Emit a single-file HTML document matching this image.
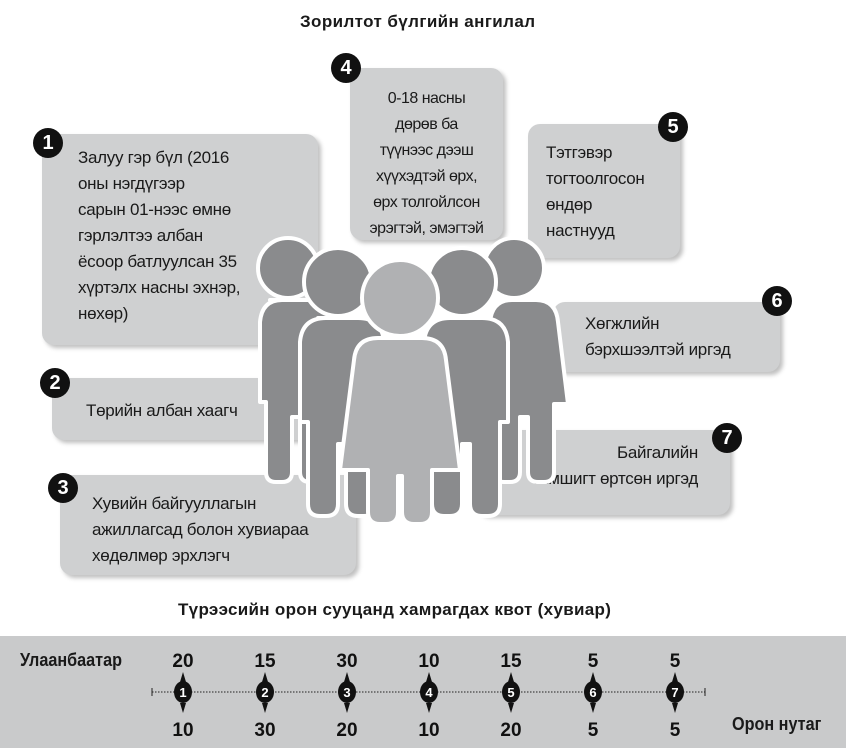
<!DOCTYPE html>
<html><head><meta charset="utf-8"><style>
body{margin:0;width:846px;height:748px;background:#fff;position:relative;overflow:hidden;font-family:"Liberation Sans","DejaVu Sans",sans-serif;color:#1a1a1a}
.b{position:absolute;background:#cfd0d1;border-radius:12px;box-shadow:3px 3px 4px rgba(0,0,0,.25);font-size:17px;line-height:26px;box-sizing:border-box;letter-spacing:-0.3px}
.n{position:absolute;width:30px;height:30px;border-radius:50%;background:#111;color:#fff;font-weight:bold;font-size:20px;line-height:30px;text-align:center}
.t{position:absolute;font-weight:bold;font-size:17px}
.band{position:absolute;left:0;top:636px;width:846px;height:112px;background:#c9cacb}
</style></head><body>
<div class="t" style="left:300px;top:12px;letter-spacing:0.4px">Зорилтот бүлгийн ангилал</div>

<div class="b" style="left:42px;top:134px;width:276px;height:211px;padding:11px 0 0 36px">Залуу гэр бүл (2016<br>оны нэгдүгээр<br>сарын 01-нээс өмнө<br>гэрлэлтээ албан<br>ёсоор батлуулсан 35<br>хүртэлх насны эхнэр,<br>нөхөр)</div>
<div class="n" style="left:33px;top:128px">1</div>

<div class="b" style="left:52px;top:378px;width:258px;height:62px;padding:20px 0 0 34px">Төрийн албан хаагч</div>
<div class="n" style="left:40px;top:368px">2</div>

<div class="b" style="left:60px;top:475px;width:296px;height:100px;padding:16px 0 0 32px">Хувийн байгууллагын<br>ажиллагсад болон хувиараа<br>хөдөлмөр эрхлэгч</div>
<div class="n" style="left:48px;top:473px">3</div>

<div class="b" style="left:350px;top:68px;width:153px;height:172px;padding:18px 0 0 0;text-align:center;font-size:16px;letter-spacing:-0.5px">0-18 насны<br>дөрөв ба<br>түүнээс дээш<br>хүүхэдтэй өрх,<br>өрх толгойлсон<br>эрэгтэй, эмэгтэй</div>
<div class="n" style="left:331px;top:53px">4</div>

<div class="b" style="left:528px;top:124px;width:152px;height:134px;padding:16px 0 0 18px">Тэтгэвэр<br>тогтоолгосон<br>өндөр<br>настнууд</div>
<div class="n" style="left:658px;top:112px">5</div>

<div class="b" style="left:553px;top:302px;width:227px;height:70px;padding:9px 0 0 32px">Хөгжлийн<br>бэрхшээлтэй иргэд</div>
<div class="n" style="left:762px;top:286px">6</div>

<div class="b" style="left:476px;top:430px;width:254px;height:85px;padding:10px 32px 0 0;text-align:right">Байгалийн<br>гамшигт өртсөн иргэд</div>
<div class="n" style="left:712px;top:423px">7</div>

<svg style="position:absolute;left:0;top:0" width="846" height="748">
<g stroke="#fff" stroke-width="4" fill="#8a8b8d" stroke-linejoin="round">
 <circle cx="288" cy="268" r="30"/>
 <path d="M270 300 h40 q20 0 22 22 v80 h-6 v70 q0 10-10 10 h-6 q-10 0-10-10 v-55 h-8 v55 q0 10-10 10 h-6 q-10 0-10-10 v-70 h-6 v-80 q2-22 22-22z"/>
 <circle cx="514" cy="268" r="30"/>
 <path d="M496 300 h40 q20 0 22 22 l10 82 h-14 v68 q0 10-10 10 h-6 q-10 0-10-10 v-55 h-8 v55 q0 10-10 10 h-6 q-10 0-10-10 v-68 h-14 l10-82 q2-22 22-22z"/>
 <circle cx="338" cy="282" r="34"/>
 <path d="M318 318 h40 q24 0 26 24 v80 h-8 v82 q0 12-12 12 h-6 q-12 0-12-12 v-60 h-8 v60 q0 12-12 12 h-6 q-12 0-12-12 v-82 h-8 v-80 q2-24 26-24z"/>
 <circle cx="462" cy="282" r="34"/>
 <path d="M442 318 h40 q24 0 26 24 v80 h-8 v82 q0 12-12 12 h-6 q-12 0-12-12 v-60 h-8 v60 q0 12-12 12 h-6 q-12 0-12-12 v-82 h-8 v-80 q2-24 26-24z"/>
 <circle cx="400" cy="298" r="38" fill="#b0b1b3"/>
 <path fill="#b0b1b3" d="M378 338 h44 q22 0 24 22 l14 110 h-28 v42 q0 12-12 12 h-6 q-12 0-12-12 v-36 h-4 v36 q0 12-12 12 h-6 q-12 0-12-12 v-42 h-28 l14-110 q2-22 24-22z"/>
</g>
</svg>

<div class="t" style="left:178px;top:600px;letter-spacing:0.3px">Түрээсийн орон сууцанд хамрагдах квот (хувиар)</div>
<div class="band"></div>
<div style="position:absolute;left:20px;top:650px;font-weight:bold;font-size:18px;transform:scaleX(.9);transform-origin:left">Улаанбаатар</div>
<div style="position:absolute;left:732px;top:714px;font-weight:bold;font-size:18px;transform:scaleX(.9);transform-origin:left">Орон нутаг</div>
<svg style="position:absolute;left:0;top:636px" width="846" height="112">
 <line x1="152" y1="56" x2="705" y2="56" stroke="#222" stroke-dasharray="1.5 1.5" stroke-width="1"/>
 <line x1="152" y1="52" x2="152" y2="60" stroke="#222"/><line x1="705" y1="52" x2="705" y2="60" stroke="#222"/>
<g fill="#111">
<path d="M183 36 l-3 10 h6z M183 77 l-3-10 h6z"/><ellipse cx="183" cy="56" rx="9" ry="11"/>
<path d="M265 36 l-3 10 h6z M265 77 l-3-10 h6z"/><ellipse cx="265" cy="56" rx="9" ry="11"/>
<path d="M347 36 l-3 10 h6z M347 77 l-3-10 h6z"/><ellipse cx="347" cy="56" rx="9" ry="11"/>
<path d="M429 36 l-3 10 h6z M429 77 l-3-10 h6z"/><ellipse cx="429" cy="56" rx="9" ry="11"/>
<path d="M511 36 l-3 10 h6z M511 77 l-3-10 h6z"/><ellipse cx="511" cy="56" rx="9" ry="11"/>
<path d="M593 36 l-3 10 h6z M593 77 l-3-10 h6z"/><ellipse cx="593" cy="56" rx="9" ry="11"/>
<path d="M675 36 l-3 10 h6z M675 77 l-3-10 h6z"/><ellipse cx="675" cy="56" rx="9" ry="11"/>
</g>
<g fill="#fff" font-family="Liberation Sans" font-weight="bold" font-size="13" text-anchor="middle">
<text x="183" y="61">1</text><text x="265" y="61">2</text><text x="347" y="61">3</text><text x="429" y="61">4</text><text x="511" y="61">5</text><text x="593" y="61">6</text><text x="675" y="61">7</text>
</g>
<g fill="#111" font-family="Liberation Sans" font-weight="bold" font-size="19" text-anchor="middle">
<text x="183" y="31">20</text><text x="265" y="31">15</text><text x="347" y="31">30</text><text x="429" y="31">10</text><text x="511" y="31">15</text><text x="593" y="31">5</text><text x="675" y="31">5</text>
<text x="183" y="100">10</text><text x="265" y="100">30</text><text x="347" y="100">20</text><text x="429" y="100">10</text><text x="511" y="100">20</text><text x="593" y="100">5</text><text x="675" y="100">5</text>
</g>
</svg>
</body></html>
